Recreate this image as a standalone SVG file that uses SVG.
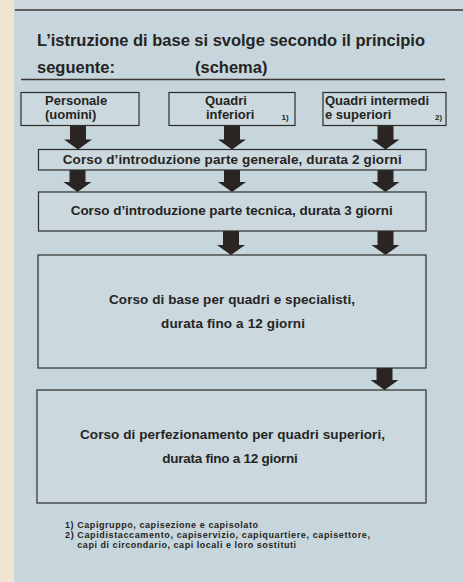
<svg xmlns="http://www.w3.org/2000/svg" width="463" height="582" viewBox="0 0 463 582">
<style>
.t{font-family:"Liberation Sans",Arial,sans-serif;font-weight:bold;fill:#262422}
.box{fill:#cbd9df;stroke:#2e2c2a;stroke-width:1.2}
.arr{fill:#2a2522}
.rule{stroke:#3a3633;stroke-width:1.4}
</style>
<rect x="0" y="0" width="463" height="582" fill="#c7d6dc"/>
<rect x="0" y="0" width="463" height="10" fill="#cdd9de"/>
<rect x="0" y="0" width="14" height="582" fill="#efe5d0"/>
<line class="rule" x1="15" y1="10" x2="463" y2="10"/>
<g id="title">
<text class="t" x="37" y="46" font-size="16.5" textLength="388">L’istruzione di base si svolge secondo il principio</text>
<text class="t" x="37" y="73" font-size="16.5">seguente:</text>
<text class="t" x="195" y="73" font-size="16.5">(schema)</text>
<line class="rule" x1="21" y1="79.5" x2="445" y2="79.5"/>
</g>
<g id="connectors">
<path class="arr" d="M70,125.5 H86 V139.5 H92 L78,149.5 L64,139.5 H70 Z"/>
<path class="arr" d="M224,125.5 H240 V139.5 H246 L232,149.5 L218,139.5 H224 Z"/>
<path class="arr" d="M377.5,125.5 H393.5 V139.5 H399.5 L385.5,149.5 L371.5,139.5 H377.5 Z"/>
<path class="arr" d="M69.5,170 H85.5 V182 H91.5 L77.5,192 L63.5,182 H69.5 Z"/>
<path class="arr" d="M224,170 H240 V182 H246 L232,192 L218,182 H224 Z"/>
<path class="arr" d="M377.5,170 H393.5 V182 H399.5 L385.5,192 L371.5,182 H377.5 Z"/>
<path class="arr" d="M223,231 H239 V245 H245 L231,255 L217,245 H223 Z"/>
<path class="arr" d="M377.5,231 H393.5 V245 H399.5 L385.5,255 L371.5,245 H377.5 Z"/>
<path class="arr" d="M376.5,368 H392.5 V380 H398.5 L384.5,390 L370.5,380 H376.5 Z"/>
</g>
<g id="personale">
<rect class="box" x="21" y="92.5" width="118" height="33"/>
<text class="t" x="45" y="105" font-size="13">Personale</text>
<text class="t" x="45" y="119" font-size="13">(uomini)</text>
</g>
<g id="quadri-inferiori">
<rect class="box" x="169" y="92.5" width="126" height="33"/>
<text class="t" x="205" y="105" font-size="13">Quadri</text>
<text class="t" x="206" y="119" font-size="13">inferiori</text>
<text class="t" x="281.5" y="120" font-size="8">1)</text>
</g>
<g id="quadri-intermedi">
<rect class="box" x="323" y="92.5" width="123" height="33"/>
<text class="t" x="325" y="105" font-size="13">Quadri intermedi</text>
<text class="t" x="325" y="119" font-size="13">e superiori</text>
<text class="t" x="435" y="120" font-size="8">2)</text>
</g>
<g id="corso-generale">
<rect class="box" x="38.5" y="149.5" width="387.5" height="20.5"/>
<text class="t" x="62.7" y="164" font-size="13.5" textLength="339">Corso d’introduzione parte generale, durata 2 giorni</text>
</g>
<g id="corso-tecnica">
<rect class="box" x="38.5" y="192" width="387.5" height="39"/>
<text class="t" x="70.7" y="215" font-size="13.5" textLength="322">Corso d’introduzione parte tecnica, durata 3 giorni</text>
</g>
<g id="corso-base">
<rect class="box" x="38" y="255" width="388" height="113"/>
<text class="t" x="109" y="304" font-size="13.5" textLength="246">Corso di base per quadri e specialisti,</text>
<text class="t" x="161" y="328" font-size="13.5" textLength="144">durata fino a 12 giorni</text>
</g>
<g id="corso-perfezionamento">
<rect class="box" x="37" y="390" width="389" height="113"/>
<text class="t" x="80" y="439" font-size="13.5" textLength="305">Corso di perfezionamento per quadri superiori,</text>
<text class="t" x="162.3" y="463" font-size="13.5" textLength="135.5">durata fino a 12 giorni</text>
</g>
<g id="footnotes">
<text class="t" x="65" y="528" font-size="9" textLength="193">1) Capigruppo, capisezione e capisolato</text>
<text class="t" x="65" y="537.7" font-size="9" textLength="305">2) Capidistaccamento, capiservizio, capiquartiere, capisettore,</text>
<text class="t" x="77.3" y="547.7" font-size="9" textLength="218.7">capi di circondario, capi locali e loro sostituti</text>
</g>
</svg>
